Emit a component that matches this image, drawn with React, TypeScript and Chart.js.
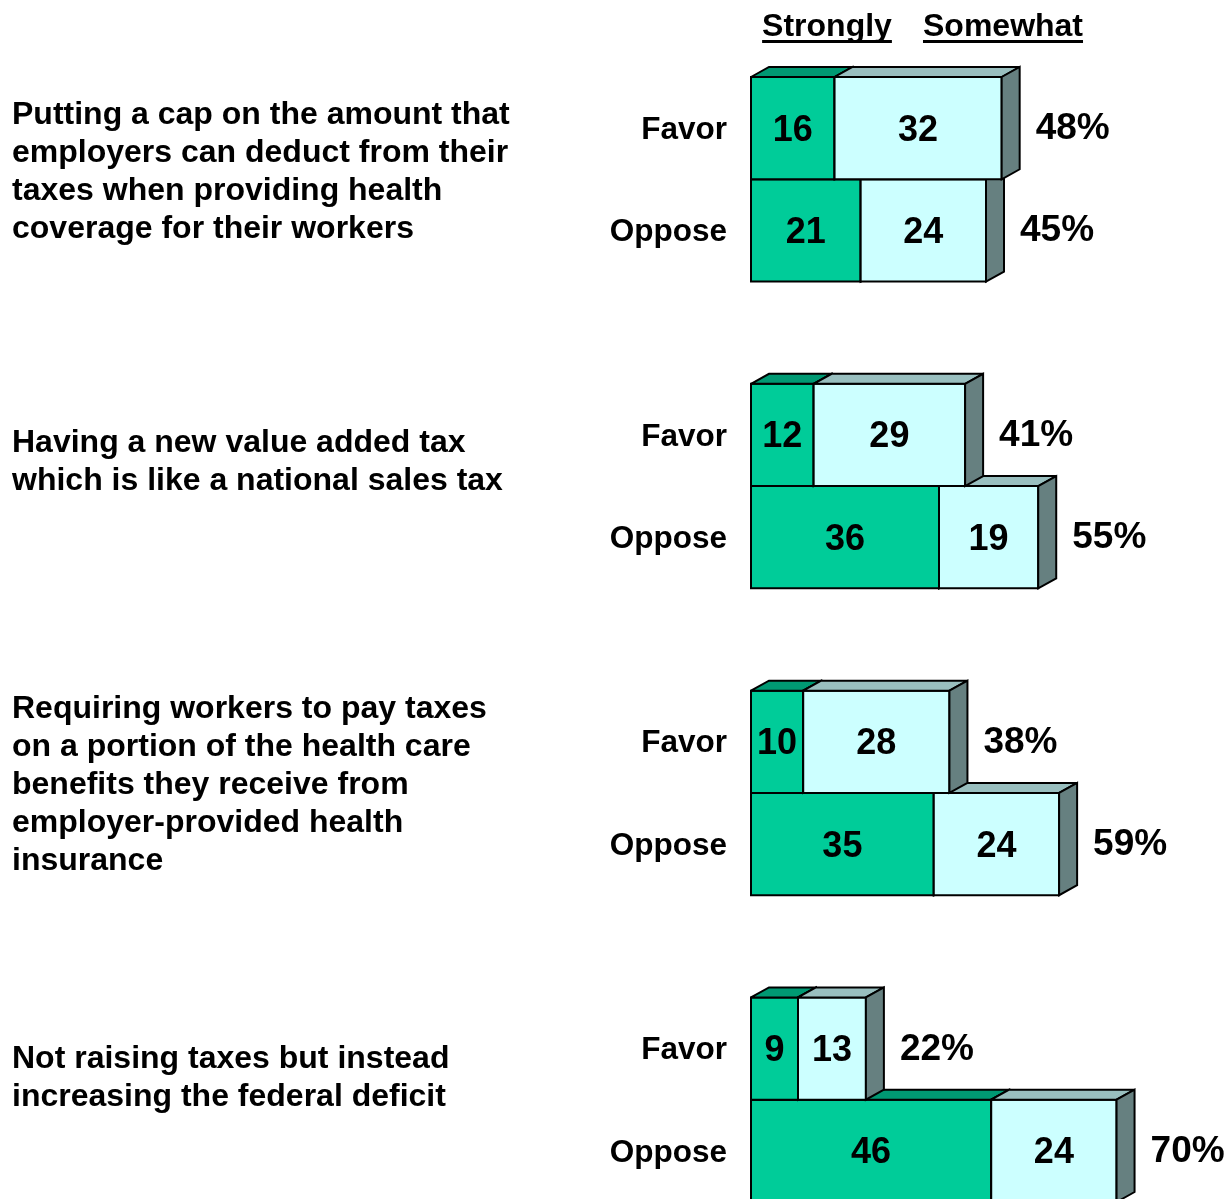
import React, { useEffect, useRef } from "react";
import { Chart, registerables } from "chart.js";

Chart.register(...registerables);

// ---------------- data ----------------
const questions: string[][] = [
  ["Putting a cap on the amount that", "employers can deduct from their", "taxes when providing health", "coverage for their workers"],
  ["Having a new value added tax", "which is like a national sales tax"],
  ["Requiring workers to pay taxes", "on a portion of the health care", "benefits they receive from", "employer-provided health", "insurance"],
  ["Not raising taxes but instead", "increasing the federal deficit"],
];
const responses = ["Favor", "Oppose"];
const seriesNames = ["Strongly", "Somewhat"];
const stronglyFavor = [16, 12, 10, 9];
const somewhatFavor = [32, 29, 28, 13];
const stronglyOppose = [21, 36, 35, 46];
const somewhatOppose = [24, 19, 24, 24];
const totalFavor = [48, 41, 38, 22];
const totalOppose = [45, 55, 59, 70];

// ---------------- layout / style ----------------
const FONT = '"Liberation Sans", Arial, Helvetica, sans-serif';
const DX = 18;
const DY = 10;
const questionBaseline = [123.5, 451.7, 717.7, 1068.3];
const questionLineH = 38;
const headerX = [827, 1003];
const COLORS = {
  strongly: { front: "#00CC99", top: "#009973", side: "#00664D" },
  somewhat: { front: "#CCFFFF", top: "#99BFBF", side: "#668080" },
};

// build the category slots: Favor, Oppose, (gap) per question
const labels: string[] = [];
const stronglyData: (number | null)[] = [];
const somewhatData: (number | null)[] = [];
const totalsData: (number | null)[] = [];
questions.forEach((_, q) => {
  labels.push(responses[0]);
  stronglyData.push(stronglyFavor[q]);
  somewhatData.push(somewhatFavor[q]);
  totalsData.push(totalFavor[q]);
  labels.push(responses[1]);
  stronglyData.push(stronglyOppose[q]);
  somewhatData.push(somewhatOppose[q]);
  totalsData.push(totalOppose[q]);
  if (q < questions.length - 1) {
    labels.push("");
    stronglyData.push(null);
    somewhatData.push(null);
    totalsData.push(null);
  }
});

function poly(ctx: CanvasRenderingContext2D, pts: number[][], fill: string) {
  ctx.beginPath();
  ctx.moveTo(pts[0][0], pts[0][1]);
  for (let i = 1; i < pts.length; i++) ctx.lineTo(pts[i][0], pts[i][1]);
  ctx.closePath();
  ctx.fillStyle = fill;
  ctx.fill();
  ctx.stroke();
}

const bars3d = {
  id: "bars3d",
  beforeDatasetsDraw(chart: any) {
    const ctx: CanvasRenderingContext2D = chart.ctx;
    const palettes = [COLORS.strongly, COLORS.somewhat];
    ctx.save();
    ctx.lineWidth = 2;
    ctx.strokeStyle = "#000";
    ctx.lineJoin = "miter";
    ctx.miterLimit = 2;
    const n = chart.data.labels.length;
    const texts: { x: number; y: number; s: string; align: CanvasTextAlign; size: number }[] = [];
    for (let i = n - 1; i >= 0; i--) {
      let barRight = -1;
      let barY = 0;
      for (let d = 0; d < 2; d++) {
        const meta = chart.getDatasetMeta(d);
        const val = chart.data.datasets[d].data[i];
        if (val === null || val === undefined) continue;
        const el = meta.data[i];
        const p = el.getProps(["x", "y", "base", "height"], true);
        const left = Math.min(p.x, p.base);
        const right = Math.max(p.x, p.base);
        const top = p.y - p.height / 2;
        const bottom = p.y + p.height / 2;
        const pal = palettes[d];
        poly(ctx, [[left, top], [right, top], [right, bottom], [left, bottom]], pal.front);
        poly(ctx, [[left, top], [left + DX, top - DY], [right + DX, top - DY], [right, top]], pal.top);
        poly(ctx, [[right, top], [right + DX, top - DY], [right + DX, bottom - DY], [right, bottom]], pal.side);
        texts.push({ x: (left + right) / 2, y: p.y + 12.5, s: String(val), align: "center", size: 36 });
        barRight = right;
        barY = p.y;
      }
      const tot = totalsData[i];
      if (tot !== null && barRight > 0) {
        texts.push({ x: barRight + DX + 16, y: barY + 11, s: tot + "%", align: "left", size: 37 });
      }
    }
    ctx.fillStyle = "#000";
    ctx.textBaseline = "alphabetic";
    texts.forEach((t) => {
      ctx.font = `bold ${t.size}px ${FONT}`;
      ctx.textAlign = t.align;
      ctx.fillText(t.s, t.x, t.y);
    });

    // question texts
    ctx.font = `bold 32px ${FONT}`;
    ctx.textAlign = "left";
    questions.forEach((lines, q) => {
      lines.forEach((line, k) => {
        ctx.fillText(line, 12, questionBaseline[q] + k * questionLineH);
      });
    });

    // column headers, underlined
    ctx.font = `bold 32px ${FONT}`;
    ctx.textAlign = "center";
    seriesNames.forEach((name, k) => {
      const w = ctx.measureText(name).width;
      ctx.fillText(name, headerX[k], 36);
      ctx.fillRect(headerX[k] - w / 2, 40, w, 3);
    });
    ctx.restore();
    return false;
  },
};

export default function App() {
  const ref = useRef<HTMLCanvasElement | null>(null);
  useEffect(() => {
    if (!ref.current) return;
    const chart = new Chart(ref.current, {
      type: "bar",
      data: {
        labels,
        datasets: [
          { label: seriesNames[0], data: stronglyData as any, backgroundColor: COLORS.strongly.front },
          { label: seriesNames[1], data: somewhatData as any, backgroundColor: COLORS.somewhat.front },
        ],
      },
      options: {
        indexAxis: "y",
        responsive: false,
        animation: false,
        devicePixelRatio: 1,
        layout: { padding: { top: 77, right: 11, bottom: 0, left: 0 } },
        datasets: { bar: { barPercentage: 1, categoryPercentage: 1 } },
        plugins: { legend: { display: false }, tooltip: { enabled: false } },
        scales: {
          x: { stacked: true, display: false, min: 0, max: 90 },
          y: {
            stacked: true,
            grid: { display: false, drawTicks: false },
            border: { display: false },
            ticks: {
              autoSkip: false,
              padding: 24,
              labelOffset: 2,
              color: "#000",
              font: { family: FONT, size: 31.5, weight: "bold" },
            },
            afterFit: (scale: any) => {
              scale.width = 751;
              scale.paddingTop = 0;
              scale.paddingBottom = 0;
            },
          },
        },
      } as any,
      plugins: [bars3d],
    });
    return () => chart.destroy();
  }, []);
  return (
    <div
      style={{
        position: "fixed",
        left: 0,
        top: 0,
        width: 1232,
        height: 1199,
        overflow: "hidden",
        background: "#fff",
      }}
    >
      <canvas ref={ref} width={1232} height={1202} style={{ display: "block" }} />
    </div>
  );
}
